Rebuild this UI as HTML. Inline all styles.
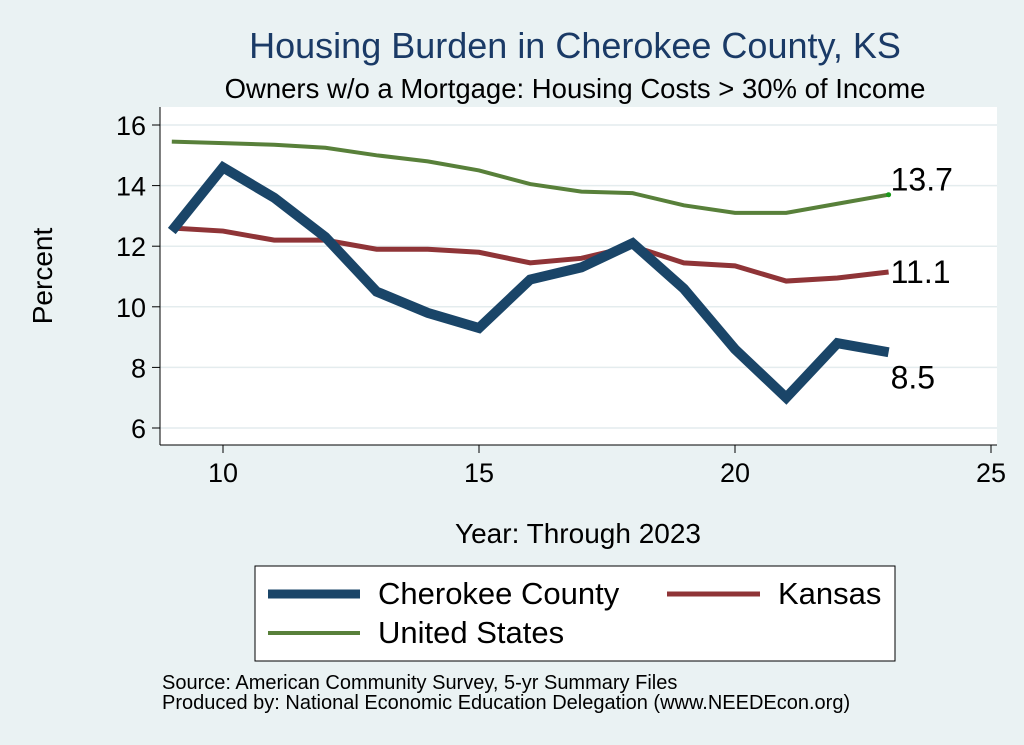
<!DOCTYPE html>
<html><head><meta charset="utf-8"><style>
body{margin:0;background:#eaf2f3;}
svg{display:block;font-family:"Liberation Sans",sans-serif;}
</style></head><body>
<svg id="c" width="1024" height="745">
<rect x="0" y="0" width="1024" height="745" fill="#eaf2f3"/>
<text x="575" y="58" font-size="36" fill="#1a3a66" text-anchor="middle">Housing Burden in Cherokee County, KS</text>
<text x="575" y="98" font-size="27.5" fill="#000" text-anchor="middle">Owners w/o a Mortgage: Housing Costs &gt; 30% of Income</text>
<rect x="160" y="107" width="837" height="338" fill="#fff"/>
<g id="grid"></g>
<g id="axes"></g>
<g id="series"></g>
<text x="52" y="276" font-size="28" text-anchor="middle" transform="rotate(-90 52 276)">Percent</text>
<text x="578" y="543" font-size="28" text-anchor="middle">Year: Through 2023</text>
<rect x="255" y="566" width="640" height="95" fill="#fff" stroke="#000" stroke-width="1"/>
<g><line x1="268" y1="594" x2="360" y2="594" stroke="#1a4568" stroke-width="9"/><text x="378" y="604" font-size="31">Cherokee County</text></g>
<g><line x1="667" y1="594" x2="760" y2="594" stroke="#8f3437" stroke-width="5"/><text x="778" y="604" font-size="31">Kansas</text></g>
<g><line x1="268" y1="633" x2="360" y2="633" stroke="#58803a" stroke-width="4"/><text x="378" y="643" font-size="31">United States</text></g>
<text x="162" y="689" font-size="20">Source: American Community Survey, 5-yr Summary Files</text>
<text x="162" y="709" font-size="20">Produced by: National Economic Education Delegation (www.NEEDEcon.org)</text>
</svg>
<script>
const years=[9,10,11,12,13,14,15,16,17,18,19,20,21,22,23];
const cherokee=[12.5,14.6,13.6,12.3,10.5,9.8,9.3,10.9,11.3,12.1,10.6,8.6,7.0,8.8,8.5];
const kansas=[12.6,12.5,12.2,12.2,11.9,11.9,11.8,11.45,11.6,12.0,11.45,11.35,10.85,10.95,11.15];
const us=[15.45,15.4,15.35,15.25,15.0,14.8,14.5,14.05,13.8,13.75,13.35,13.1,13.1,13.4,13.7];
const xTicks=[10,15,20,25];
const yTicks=[6,8,10,12,14,16];
const NS="http://www.w3.org/2000/svg";
const X=v=>223+(v-10)*51.2;
const Y=v=>428-(v-6)*30.3;
function mk(t,a,p){const e=document.createElementNS(NS,t);for(const k in a)e.setAttribute(k,a[k]);p.appendChild(e);return e;}
const grid=document.getElementById('grid'),axes=document.getElementById('axes'),ser=document.getElementById('series');
yTicks.forEach(v=>{
 const g=mk('line',{x1:160,x2:997,y1:Y(v),y2:Y(v),stroke:'#e4ecee','stroke-width':1.5},grid);
 
 
 mk('line',{x1:152,x2:160,y1:Y(v),y2:Y(v),stroke:'#000'},axes);
 const t=mk('text',{x:146,y:Y(v)+10,'font-size':27,'text-anchor':'end'},axes);t.textContent=v;
 
 
});
mk('line',{x1:160,x2:160,y1:107,y2:445,stroke:'#000'},axes);
mk('line',{x1:160,x2:997,y1:445,y2:445,stroke:'#000'},axes);
xTicks.forEach(v=>{
 mk('line',{x1:X(v),x2:X(v),y1:445,y2:453,stroke:'#000'},axes);
 const t=mk('text',{x:X(v),y:482,'font-size':27,'text-anchor':'middle'},axes);t.textContent=v;
 
 
});
function line(vals,col,w,name){
 const p=mk('polyline',{points:years.map((y,i)=>X(y)+','+Y(vals[i])).join(' '),fill:'none',stroke:col,'stroke-width':w,'stroke-linejoin':'miter'},ser);
 
 
}
line(us,'#58803a',4,'series-united-states');
line(kansas,'#8f3437',5,'series-kansas');
line(cherokee,'#1a4568',10,'series-cherokee-county');
const n=years.length-1;
const labs=[[us,-4],[kansas,11],[cherokee,36]];
labs.forEach(([vals,dy])=>{
 const t=mk('text',{x:X(years[n])+2,y:Y(vals[n])+dy,'font-size':32},ser);
 t.textContent=(Math.round(vals[n]*10-0.01)/10).toFixed(1);
 
 
});
mk('circle',{cx:X(years[n]),cy:Y(us[n]),r:2.5,fill:'#1a9a1a'},ser);
</script>
</body></html>
